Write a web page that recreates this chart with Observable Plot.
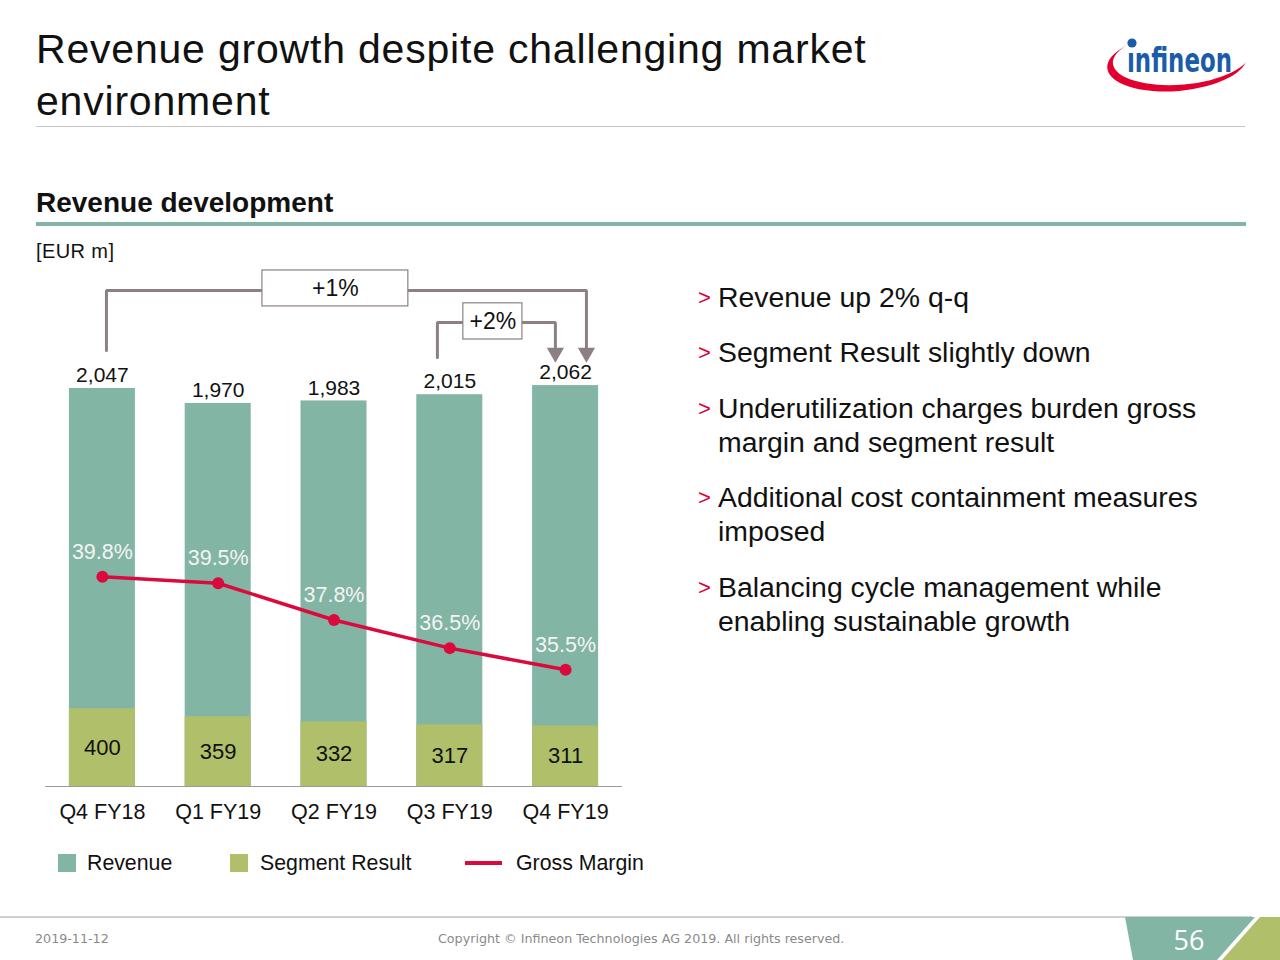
<!DOCTYPE html>
<html>
<head>
<meta charset="utf-8">
<script src="https://cdn.jsdelivr.net/npm/d3@7"></script>
<script src="https://cdn.jsdelivr.net/npm/@observablehq/plot@0.6"></script>
<style>
  html, body { margin: 0; padding: 0; background: #fff; }
  body { width: 1280px; height: 960px; position: relative; overflow: hidden; font-family: "Liberation Sans", Arial, sans-serif; color: #111; }
  .abs { position: absolute; white-space: nowrap; }
  #title { left: 36px; top: 23px; font-size: 41px; letter-spacing: 0.8px; line-height: 52px; color: #111; }
  #rule1 { left: 36px; top: 126px; width: 1209px; height: 1px; background: #c4c4c4; }
  #subtitle { left: 36px; top: 186px; font-size: 28px; font-weight: bold; line-height: 34px; }
  #rule2 { left: 36px; top: 222px; width: 1210px; height: 4px; background: #83b5a5; }
  #unit { left: 36px; top: 240px; font-size: 20px; letter-spacing: 0.4px; line-height: 22px; }
  #chart { left: 0; top: 262px; }
  .b { position: absolute; left: 698px; font-size: 28.4px; line-height: 34px; white-space: nowrap; }
  .b .m { position: absolute; left: 0; top: 1px; color: #d9003a; font-size: 22px; }
  .b .t { position: absolute; left: 20px; }
  .leg { position: absolute; top: 851px; font-size: 21.3px; line-height: 24px; }
  .sw { position: absolute; width: 18px; height: 18px; top: 854px; }
  #footrule { left: 0; top: 916px; width: 1252px; height: 2px; background: #d0d0d0; }
  .foot { font-family: "DejaVu Sans", sans-serif; font-size: 12.7px; color: #8a8a8a; top: 931px; }
</style>
</head>
<body>
<div id="title" class="abs">Revenue growth despite challenging market<br>environment</div>
<svg class="abs" style="left:1095px;top:22px" width="180" height="80" viewBox="0 0 180 80">
  <g transform="rotate(-5 82 40)">
    <ellipse cx="82" cy="40" rx="70" ry="29" fill="#e2002e"/>
    <ellipse cx="87" cy="36" rx="69" ry="27" fill="#fff"/>
  </g>
  <circle cx="37" cy="21" r="4.6" fill="#1b5ca8"/>
  <text x="32" y="50" font-family="DejaVu Sans Condensed, DejaVu Sans" font-weight="bold" font-size="34" fill="#1b5ca8" textLength="105" lengthAdjust="spacingAndGlyphs">ınfineon</text>
</svg>
<div id="rule1" class="abs"></div>
<div id="subtitle" class="abs">Revenue development</div>
<div id="rule2" class="abs"></div>
<div id="unit" class="abs">[EUR m]</div>
<div id="chart" class="abs"></div>

<div class="b" style="top:280px"><span class="m">&gt;</span><span class="t">Revenue up 2% q-q</span></div>
<div class="b" style="top:335px"><span class="m">&gt;</span><span class="t">Segment Result slightly down</span></div>
<div class="b" style="top:391px"><span class="m">&gt;</span><span class="t">Underutilization charges burden gross<br>margin and segment result</span></div>
<div class="b" style="top:480px"><span class="m">&gt;</span><span class="t">Additional cost containment measures<br>imposed</span></div>
<div class="b" style="top:570px"><span class="m">&gt;</span><span class="t">Balancing cycle management while<br>enabling sustainable growth</span></div>

<div class="sw" style="left:58px;background:#83b5a5"></div>
<div class="leg" style="left:87px">Revenue</div>
<div class="sw" style="left:230px;background:#afbf6a"></div>
<div class="leg" style="left:260px">Segment Result</div>
<div class="abs" style="left:465px;top:861px;width:37px;height:4px;background:#db0a3c"></div>
<div class="leg" style="left:516px">Gross Margin</div>

<div id="footrule" class="abs"></div>
<div class="abs foot" style="left:35px">2019-11-12</div>
<div class="abs foot" style="left:438px">Copyright © Infineon Technologies AG 2019. All rights reserved.</div>
<svg class="abs" style="left:0;top:0;pointer-events:none" width="1280" height="960">
  <polygon points="1125,917 1255,917 1217,960 1133,960" fill="#83b5a5"/>
  <polygon points="1260,917 1280,917 1280,960 1222,960" fill="#afbf6a"/>
  <text x="1189" y="950" text-anchor="middle" font-family="Open Sans, DejaVu Sans" font-size="27" fill="#fff">56</text>
</svg>

<script>
const quarters = ["Q4 FY18", "Q1 FY19", "Q2 FY19", "Q3 FY19", "Q4 FY19"];
const revenue = [2047, 1970, 1983, 2015, 2062];
const segmentResult = [400, 359, 332, 317, 311];
const grossMargin = [39.8, 39.5, 37.8, 36.5, 35.5];
const growthLabels = ["+1%", "+2%"];

const teal = "#83b5a5", olive = "#afbf6a", red = "#db0a3c", arrowGray = "#8c8084";

const rows = quarters.map((q, i) => ({i, q, revenue: revenue[i], seg: segmentResult[i], gm: grossMargin[i]}));
// gross margin shares the chart's vertical space through a secondary mapping
const gmY = d => (d.gm - 30.1) * 111.2;
const half = 0.285;

// comparison brackets (from quarter index -> to quarter index)
const brackets = [
  {label: growthLabels[0], from: 0, to: 4, fx: 0.035, tx: 0.18, start: 2243, level: 2551, tip: 2231,
   box: {x1: 1.382, x2: 2.642, y1: 2469, y2: 2654}},
  {label: growthLabels[1], from: 3, to: 4, fx: -0.107, tx: -0.088, start: 2207, level: 2387, tip: 2231,
   box: {x1: 3.117, x2: 3.627, y1: 2299, y2: 2485}}
];
const bracketPts = brackets.flatMap(b => [
  {z: b.label, x: b.from + b.fx, y: b.start},
  {z: b.label, x: b.from + b.fx, y: b.level},
  {z: b.label, x: b.to + b.tx, y: b.level},
  {z: b.label, x: b.to + b.tx, y: b.tip}
]);

const chart = Plot.plot({
  width: 660,
  height: 570,
  marginLeft: 44,
  marginRight: 37,
  marginTop: 0,
  marginBottom: 46,
  style: {fontFamily: "Liberation Sans, Arial, sans-serif", fontSize: "21px", color: "#111", background: "transparent"},
  x: {type: "linear", domain: [-0.5, 4.5], axis: null},
  y: {domain: [0, 2695], axis: null},
  marks: [
    Plot.rectY(rows, {x1: d => d.i - half, x2: d => d.i + half, y1: 0, y2: "revenue", fill: teal}),
    Plot.rectY(rows, {x1: d => d.i - half, x2: d => d.i + half, y1: 0, y2: "seg", fill: olive}),
    Plot.ruleY([0], {x1: -0.49, x2: 4.49, stroke: "#9a9a9a", strokeWidth: 1.2}),
    Plot.axisX({ticks: d3.range(quarters.length), tickFormat: i => quarters[i], tickSize: 0, tickPadding: 17, fontSize: 21.5, fill: "#111"}),
    Plot.text(rows, {x: "i", y: "revenue", text: d => d3.format(",")(d.revenue), dy: -13, fontSize: 21, fill: "#111"}),
    Plot.text(rows, {x: "i", y: d => d.seg / 2, text: d => String(d.seg), fontSize: 22, fill: "#111"}),
    Plot.line(rows, {x: "i", y: gmY, stroke: red, strokeWidth: 3.5}),
    Plot.dot(rows, {x: "i", y: gmY, r: 6, fill: red}),
    Plot.text(rows, {x: "i", y: gmY, dy: -25, text: d => d.gm.toFixed(1) + "%", fontSize: 21.5, fill: "#f4f4f4"}),
    Plot.line(bracketPts, {x: "x", y: "y", z: "z", stroke: arrowGray, strokeWidth: 3, strokeLinejoin: "miter"}),
    Plot.dot(brackets, {x: b => b.to + b.tx, y: b => b.tip, symbol: "triangle", r: 6.4, rotate: 180, fill: arrowGray, stroke: "none"}),
    Plot.rect(brackets, {x1: b => b.box.x1, x2: b => b.box.x2, y1: b => b.box.y1, y2: b => b.box.y2, fill: "#fff", stroke: arrowGray, strokeWidth: 1.2}),
    Plot.text(brackets, {x: b => (b.box.x1 + b.box.x2) / 2, y: b => (b.box.y1 + b.box.y2) / 2, text: "label", fontSize: 23, fill: "#111"})
  ]
});
document.getElementById("chart").appendChild(chart);
</script>
</body>
</html>
